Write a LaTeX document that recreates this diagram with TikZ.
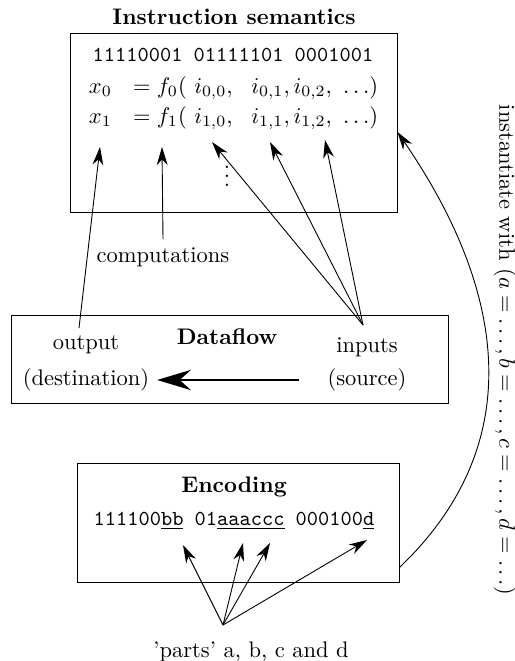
\documentclass[tikz,border=0pt]{standalone}
\usepackage{amsmath}
\usepackage{amssymb}
\usetikzlibrary{arrows.meta,fit}

\newcommand{\bits}[1]{{\fontsize{9.5}{11}\selectfont\ttfamily #1}}

\begin{document}
\begin{tikzpicture}[x = 0.4444pt, y = -0.4444pt,
  frame/.style = {draw, inner sep = 0pt},
  tip/.style = {-{Stealth[length = 8pt, width = 4.8pt, inset = 2.5pt]}},
  bigtip/.style = {-{Stealth[length = 15pt, width = 9pt, inset = 5pt]}, line width = 0.9pt}]
\useasboundingbox (0,0) rectangle (515,661);
% instruction semantics
\node [frame, fit = {(70,33) (397,212)}] (sem) {};
\node (semtitle) at (234,17) {\textbf{Instruction semantics}};
\node (instr) at (233,55) {\bits{11110001 01111101 0001001}};
\node [anchor = west] (line0) at (81,88) {$x_0 \ \ = f_0(\ i_{0,0},\ \ i_{0,1}, i_{0,2},\ \ldots)$};
\node [anchor = west] (line1) at (81,118) {$x_1 \ \ = f_1(\ i_{1,0},\ \ i_{1,1}, i_{1,2},\ \ldots)$};
\node (vdots) at (227,170) {$\vdots$};
\coordinate (xtip) at (100,147);
\coordinate (ftip) at (162,147);
\coordinate (itip0) at (212,142);
\coordinate (itip1) at (270,142);
\coordinate (itip2) at (325,140);
\node (comp) at (163,257) {computations};
% dataflow
\node [frame, fit = {(11,315) (448,403)}] (flow) {};
\node (flowtitle) at (227,337) {\textbf{Dataflow}};
\node (output) at (86,345) {output};
\node (dest) at (86,380) {(destination)};
\node (inputs) at (367,347) {inputs};
\node (source) at (367,380) {(source)};
\coordinate (outfoot) at (79,328);
\coordinate (infoot) at (363,325);
% encoding
\node [frame, fit = {(77,463) (399,582)}] (enc) {};
\node (enctitle) at (234,487) {\textbf{Encoding}};
\node (code) at (234,521) {\bits{111100\underline{bb} 01\underline{aaaccc} 000100\underline{d}}};
\coordinate (btip) at (183,545);
\coordinate (atip) at (243,543);
\coordinate (ctip) at (270,543);
\coordinate (dtip) at (367,540);
\node (parts) at (251,652) {'parts' a, b, c and d};
\coordinate (partsfoot) at (223,625);
\node [rotate = -90] (inst) at (505,350) {instantiate with ($a=\ldots,b=\ldots,c=\ldots,d=\ldots$)};
% arrows
\draw [tip] (outfoot) -- (xtip);
\draw [tip] (comp.north) -- (ftip);
\foreach \t in {itip0, itip1, itip2}
  \draw [tip] (infoot) -- (\t);
\draw [bigtip] ([xshift = -9pt]source.west) -- (dest.east);
\foreach \t in {btip, atip, ctip, dtip}
  \draw [tip] (partsfoot) -- (\t);
\draw [tip] ([yshift = -20pt]enc.east) .. controls (532,441) and (503,286) .. ([yshift = -4.2pt]sem.east);
\end{tikzpicture}
\end{document}
